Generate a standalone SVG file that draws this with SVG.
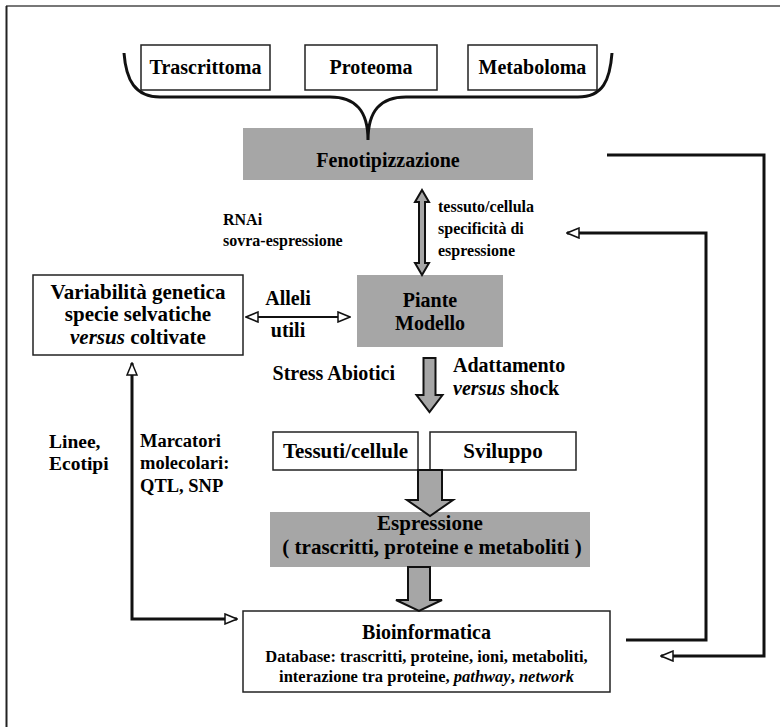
<svg xmlns="http://www.w3.org/2000/svg" width="780" height="727" viewBox="0 0 780 727">
<defs>
<style>
text{font-family:"Liberation Serif","Times New Roman",serif;font-weight:bold;fill:#000}
.box{fill:#fff;stroke:#222;stroke-width:1.5}
.gbox{fill:#a6a6a6;stroke:none}
.c{text-anchor:middle}
.ln{fill:none;stroke:#111;stroke-width:3}
.barrow{fill:#a6a6a6;stroke:#111;stroke-width:2;stroke-linejoin:miter}
.it{font-style:italic}
</style>
<marker id="oa" viewBox="0 0 14 12" refX="13" refY="6" markerWidth="14" markerHeight="12" markerUnits="userSpaceOnUse" orient="auto-start-reverse">
<path d="M1,1 L13,6 L1,11 Z" fill="#fff" stroke="#111" stroke-width="1.5"/>
</marker>
</defs>
<rect width="780" height="727" fill="#fff"/>
<g id="frame">
<line x1="6" y1="6" x2="780" y2="6" stroke="#777" stroke-width="2"/>
<line x1="6.5" y1="6" x2="6.5" y2="727" stroke="#222" stroke-width="2"/>
</g>
<g id="trascrittoma"><rect class="box" x="141" y="45" width="129" height="45"/><text class="c" x="205.5" y="74" font-size="20">Trascrittoma</text></g>
<g id="proteoma"><rect class="box" x="305" y="45" width="132" height="45"/><text class="c" x="371" y="74" font-size="20">Proteoma</text></g>
<g id="metaboloma"><rect class="box" x="468" y="45" width="129" height="45"/><text class="c" x="532.5" y="74" font-size="20">Metaboloma</text></g>
<g id="fenotipizzazione"><rect class="gbox" x="243" y="128" width="290" height="52"/><text class="c" x="388" y="167" font-size="20">Fenotipizzazione</text></g>
<g id="piante"><rect class="gbox" x="357" y="275" width="146" height="72"/><text class="c" x="430" y="307" font-size="20">Piante</text><text class="c" x="430" y="330" font-size="20">Modello</text></g>
<g id="variabilita"><rect class="box" x="33" y="275" width="210" height="80"/><text class="c" x="138" y="299" font-size="21">Variabilità genetica</text><text class="c" x="138" y="321" font-size="21">specie selvatiche</text><text class="c" x="138" y="344" font-size="21"><tspan class="it">versus</tspan> coltivate</text></g>
<g id="tessuti"><rect class="box" x="273" y="432" width="145" height="38"/><text class="c" x="345.5" y="458" font-size="21">Tessuti/cellule</text></g>
<g id="sviluppo"><rect class="box" x="430" y="432" width="146" height="38"/><text class="c" x="503" y="458" font-size="21">Sviluppo</text></g>
<g id="espressione"><rect class="gbox" x="270" y="512" width="320" height="55"/><text class="c" x="430" y="530" font-size="21">Espressione</text><text class="c" x="432" y="554" font-size="21">( trascritti, proteine e metaboliti )</text></g>
<g id="bioinformatica"><rect class="box" x="243" y="611" width="367" height="81"/><text class="c" x="426.5" y="639" font-size="20">Bioinformatica</text><text class="c" x="426.5" y="662" font-size="16.5">Database: trascritti, proteine, ioni, metaboliti,</text><text class="c" x="426.5" y="682" font-size="16.5">interazione tra proteine, <tspan class="it">pathway</tspan>, <tspan class="it">network</tspan></text></g>
<g id="labels">
<text x="223" y="225" font-size="16">RNAi</text>
<text x="223" y="246" font-size="16">sovra-espressione</text>
<text x="438" y="212" font-size="16">tessuto/cellula</text>
<text x="438" y="234" font-size="16">specificità di</text>
<text x="438" y="256" font-size="16">espressione</text>
<text class="c" x="288" y="305" font-size="20">Alleli</text>
<text class="c" x="288" y="337" font-size="20">utili</text>
<text x="395" y="380" font-size="20" text-anchor="end">Stress Abiotici</text>
<text x="453" y="372" font-size="20">Adattamento</text>
<text x="453" y="395" font-size="20"><tspan class="it">versus</tspan> shock</text>
<text x="49" y="448" font-size="19.5">Linee,</text>
<text x="49" y="470" font-size="19.5">Ecotipi</text>
<text x="140" y="447" font-size="18.5">Marcatori</text>
<text x="140" y="469" font-size="18.5">molecolari:</text>
<text x="140" y="492" font-size="18.5">QTL, SNP</text>
</g>
<g id="connectors">
<path class="ln" d="M124,53 C126,80 135,97 160,97 L330,97 C355,97 368,110 368,140 C368,110 381,97 406,97 L578,97 C603,97 610,80 612,53"/>
<polygon class="barrow" points="422,190 429,202 425,202 425,263 429,263 422,275 415,263 419,263 419,202 415,202"/>
<polygon class="barrow" points="423.5,358 435.5,358 435.5,395 442.5,395 429.5,412 416.5,395 423.5,395"/>
<polygon class="barrow" points="418,470 442,470 442,500 453,500 430,516 407,500 418,500"/>
<polygon class="barrow" points="408,567 430,567 430,600 442,600 419,611 396,600 408,600"/>
<path class="ln" d="M607,155 H764 V656 H661" marker-end="url(#oa)"/>
<path class="ln" d="M626,640 H706 V233 H567" marker-end="url(#oa)"/>
<path class="ln" d="M132,363 V619 H237" marker-start="url(#oa)" marker-end="url(#oa)"/>
<path d="M246,317 H350" fill="none" stroke="#111" stroke-width="2" marker-start="url(#oa)" marker-end="url(#oa)"/>
</g>
</svg>
